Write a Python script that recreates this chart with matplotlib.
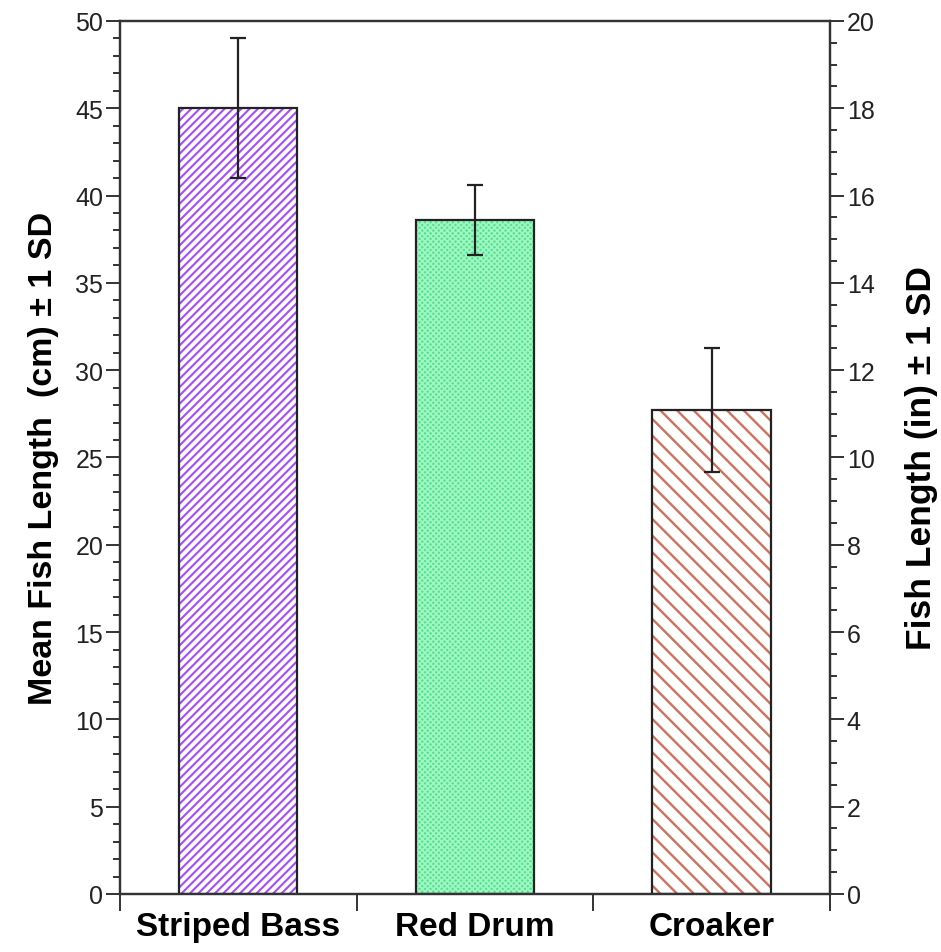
import matplotlib.pyplot as plt
from matplotlib.ticker import MultipleLocator, FixedLocator, NullFormatter

plt.rcParams["font.family"] = ["Liberation Sans", "DejaVu Sans"]

species = ["Striped Bass", "Red Drum", "Croaker"]
mean_cm = [45.0, 38.6, 27.7]
sd_cm = [4.0, 2.0, 3.55]
fill_colors = ["white", "#55e292", "white"]
hatch_colors = ["#a44dff", "#a0f7c2", "#d0705e"]
hatches = ["////", "xxxxxx", "\\\\"]
hatch_widths = [1.5, 1.2, 1.7]

fig = plt.figure(figsize=(9.41, 9.53), dpi=100)
ax = fig.add_axes([0.1275, 0.0609, 0.7545, 0.9161])

x = [i + 0.5 for i in range(len(species))]

# hatch layer first, then the black outline on top
for xi, h, fc, hc, hatch, hw in zip(x, mean_cm, fill_colors, hatch_colors, hatches, hatch_widths):
    plt.rcParams["hatch.linewidth"] = hw
    ax.bar(xi, h, width=0.5, color=fc, edgecolor=hc, hatch=hatch, linewidth=0, zorder=2)
ax.bar(x, mean_cm, width=0.5, fill=False, edgecolor="#222222", linewidth=1.6, zorder=3)
ax.errorbar(x, mean_cm, yerr=sd_cm, fmt="none", ecolor="#222222",
            elinewidth=1.6, capsize=6, capthick=1.6, zorder=4)

ax.set_xlim(0, 3)
ax.set_ylim(0, 50)
ax.yaxis.set_major_locator(MultipleLocator(5))
ax.yaxis.set_minor_locator(MultipleLocator(1))
ax.tick_params(axis="y", which="major", direction="out", length=10, width=1.4,
               labelsize=18, pad=2, colors="#333333", labelcolor="#222222")
ax.tick_params(axis="y", which="minor", direction="out", length=5, width=1.4, colors="#333333")

ax.xaxis.set_major_locator(FixedLocator([0, 1, 2, 3]))
ax.xaxis.set_major_formatter(NullFormatter())
ax.xaxis.set_minor_locator(FixedLocator(x))
ax.set_xticklabels(species, minor=True, fontsize=24, fontweight="bold")
ax.tick_params(axis="x", which="major", direction="out", length=12, width=1.4, colors="#333333")
ax.tick_params(axis="x", which="minor", length=0, pad=12)

ax.set_ylabel("Mean Fish Length  (cm) ± 1 SD", fontsize=24.5, fontweight="bold", labelpad=12)

for s in ax.spines.values():
    s.set_linewidth(1.6)
    s.set_color("#333333")

ax2 = ax.twinx()
ax2.set_ylim(0, 20)
ax2.yaxis.set_major_locator(MultipleLocator(2))
ax2.yaxis.set_minor_locator(MultipleLocator(0.5))
ax2.tick_params(axis="y", which="major", direction="out", length=10, width=1.4,
                labelsize=18, pad=2, colors="#333333", labelcolor="#222222")
ax2.tick_params(axis="y", which="minor", direction="out", length=5, width=1.4, colors="#333333")
ax2.set_ylabel("Fish Length (in) ± 1 SD", fontsize=25.5, fontweight="bold", labelpad=22)
for s in ax2.spines.values():
    s.set_linewidth(1.6)
    s.set_color("#333333")

fig.savefig("out.png", dpi=100)
